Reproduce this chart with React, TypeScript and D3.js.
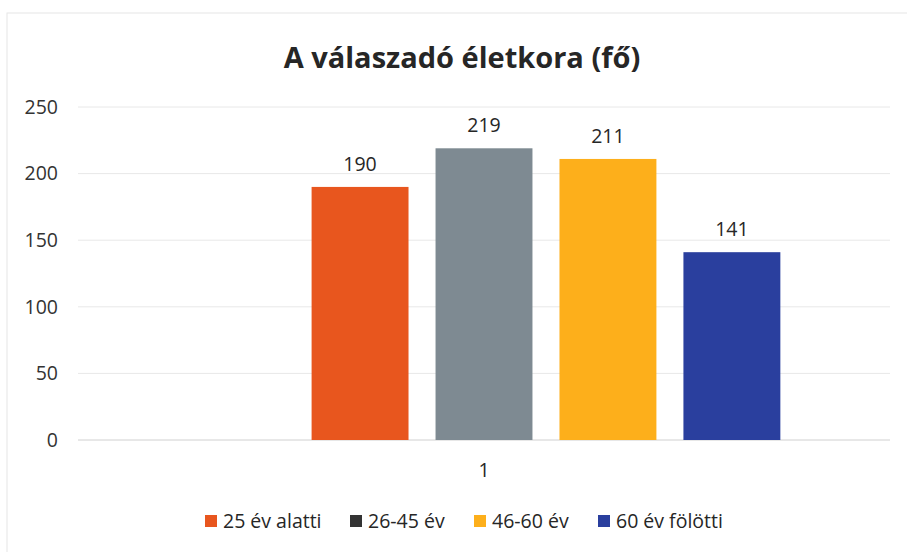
import React from 'react';
import * as d3 from 'd3';

// chart data
const categories = ['1'];
const seriesNames = ['', '25 év alatti', '26-45 év', '46-60 év', '60 év fölötti'];
const seriesValues: (number | null)[] = [null, 190, 219, 211, 141];
const barColors = ['none', '#E8561E', '#7E8A92', '#FDAF1B', '#2A3F9E'];
const legendColors = ['none', '#E8561E', '#333333', '#FDAF1B', '#2A3F9E'];
const yTicks = [0, 50, 100, 150, 200, 250];

const FONT = "'Open Sans', 'Noto Sans', sans-serif";

function App() {
  const width = 907;
  const height = 552;
  const margin = { top: 107, right: 17, bottom: 112, left: 78 };
  const plotW = width - margin.left - margin.right;
  const plotH = height - margin.top - margin.bottom;

  const y = d3.scaleLinear().domain([0, 250]).range([plotH, 0]);
  const x0 = d3.scaleBand().domain(categories).range([0, plotW]).paddingInner(0).paddingOuter(0.185);
  const x1 = d3
    .scaleBand()
    .domain(seriesNames.map((_, i) => String(i)))
    .range([0, x0.bandwidth()])
    .paddingInner(0.218)
    .paddingOuter(0);

  // legend only shows real series
  const legendItems = [
    { i: 1, x: 205 },
    { i: 2, x: 350 },
    { i: 3, x: 474 },
    { i: 4, x: 598 },
  ];

  return (
    <svg width={width} height={height} style={{ position: 'absolute', left: 0, top: 0 }}>
      <rect x={0} y={0} width={width} height={height} fill="#fff" />
      <rect x={7} y={13} width={width + 10} height={height} fill="none" stroke="#e6e6e6" strokeWidth={1} />
      <text
        x={462}
        y={68}
        textAnchor="middle"
        fontFamily={FONT}
        fontWeight="bold"
        fontSize={29}
        fill="#262626"
      >
        A válaszadó életkora (fő)
      </text>
      <g transform={`translate(${margin.left},${margin.top})`}>
        {yTicks.map((t) => (
          <g key={t}>
            <line
              x1={0}
              x2={plotW}
              y1={y(t)}
              y2={y(t)}
              stroke={t === 0 ? '#d0d0d0' : '#e8e8e8'}
              strokeWidth={1}
            />
            <text
              x={-20}
              y={y(t)}
              dy="0.35em"
              textAnchor="end"
              fontFamily={FONT}
              fontSize={19.5}
              fill="#333"
            >
              {t}
            </text>
          </g>
        ))}
        {categories.map((c) => (
          <g key={c} transform={`translate(${x0(c)},0)`}>
            {seriesValues.map((v, i) =>
              v == null ? null : (
                <g key={i}>
                  <rect
                    x={x1(String(i))}
                    y={y(v)}
                    width={x1.bandwidth()}
                    height={plotH - y(v)}
                    fill={barColors[i]}
                  />
                  <text
                    x={(x1(String(i)) ?? 0) + x1.bandwidth() / 2}
                    y={y(v) - 16}
                    textAnchor="middle"
                    fontFamily={FONT}
                    fontSize={19.5}
                    fill="#262626"
                  >
                    {v}
                  </text>
                </g>
              )
            )}
            <text
              x={x0.bandwidth() / 2}
              y={plotH + 37}
              textAnchor="middle"
              fontFamily={FONT}
              fontSize={19.5}
              fill="#262626"
            >
              {c}
            </text>
          </g>
        ))}
      </g>
      {legendItems.map((d) => (
        <g key={d.i} transform={`translate(${d.x},515)`}>
          <rect x={0} y={0} width={12} height={12} fill={legendColors[d.i]} />
          <text x={18} y={6} dy="0.35em" fontFamily={FONT} fontSize={19.5} fill="#262626">
            {seriesNames[d.i]}
          </text>
        </g>
      ))}
    </svg>
  );
}

export default App;
